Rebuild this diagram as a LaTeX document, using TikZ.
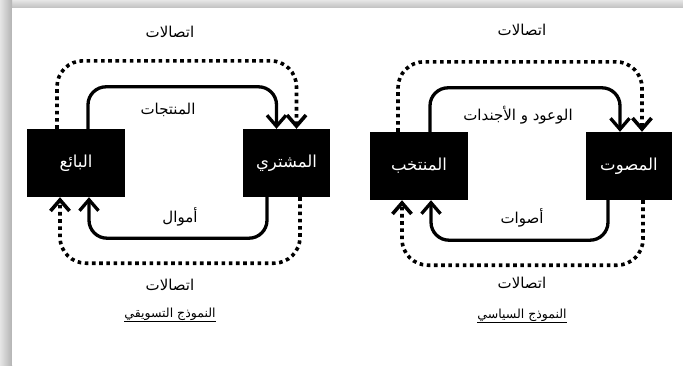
\documentclass[tikz,border=0pt]{standalone}
\usepackage{fontspec}
\newfontfamily\arabicfont[Script=Arabic]{DejaVu Sans}
\TeXXeTstate=1
\usetikzlibrary{arrows.meta}
\newcommand{\artext}[1]{\arabicfont\beginR #1\endR}

\tikzset{
  agent/.style={fill=black, text=white, minimum height=68pt, inner sep=0pt,
    font=\fontsize{16.5}{19}\selectfont},
  flow/.style={line width=3.3pt, -{Straight Barb[length=11pt,width=19pt]},
    rounded corners=18pt},
  talk/.style={line width=3.6pt, dash pattern=on 3.6pt off 3.6pt,
    -{Straight Barb[length=11pt,width=19pt]}, rounded corners=26pt},
  lbl/.style={font=\fontsize{15}{17}\selectfont},
  title/.style={font=\fontsize{12.5}{15}\selectfont}
}

\begin{document}
\begin{tikzpicture}[x=1pt,y=-1pt]
  \useasboundingbox (0,0) rectangle (683,365);

  % frame shadow
  \shade[top color=gray!20, bottom color=gray!50] (0,0) rectangle (683,8);
  \shade[left color=gray!20, right color=gray!60] (0,0) rectangle (12,365);
  \fill[white] (12,8) rectangle (683,365);

  % marketing model
  \node[agent, minimum width=98pt] (sel) at (76,163) {\artext{البائع}};
  \node[agent, minimum width=87pt] (buy) at (286.5,163) {\artext{المشتري}};

  \draw[flow] ([xshift=12pt]sel.north) -- ++(0,-42) -| ([xshift=-10pt]buy.north);
  \draw[talk] ([xshift=-19pt]sel.north) -- ++(0,-68) -| ([xshift=10pt]buy.north);
  \draw[flow] ([xshift=-19.5pt]buy.south) -- ++(0,41) -| ([xshift=13pt]sel.south);
  \draw[talk] ([xshift=13.5pt]buy.south) -- ++(0,66) -| ([xshift=-16pt]sel.south);

  \node[lbl] (mtop) at (170,32) {\artext{اتصالات}};
  \node[lbl] (goods) at (168,110) {\artext{المنتجات}};
  \node[lbl] (money) at (180,217) {\artext{أموال}};
  \node[lbl] (mbot) at (170,285) {\artext{اتصالات}};
  \node[title] (mtitle) at (170,315) {\underline{\artext{النموذج التسويقي}}};

  % political model
  \node[agent, minimum width=98pt] (elect) at (419,166) {\artext{المنتخب}};
  \node[agent, minimum width=86pt] (voter) at (629,166) {\artext{المصوت}};

  \draw[flow] ([xshift=11pt]elect.north) -- ++(0,-44) -| ([xshift=-9pt]voter.north);
  \draw[talk] ([xshift=-21pt]elect.north) -- ++(0,-70) -| ([xshift=13pt]voter.north);
  \draw[flow] ([xshift=-21pt]voter.south) -- ++(0,40) -| ([xshift=12pt]elect.south);
  \draw[talk] ([xshift=14pt]voter.south) -- ++(0,65) -| ([xshift=-17pt]elect.south);

  \node[lbl] (ptop) at (522,30) {\artext{اتصالات}};
  \node[lbl] (promise) at (518,115) {\artext{الوعود و الأجندات}};
  \node[lbl] (votes) at (522,218) {\artext{أصوات}};
  \node[lbl] (pbot) at (522,283) {\artext{اتصالات}};
  \node[title] (ptitle) at (522,316) {\underline{\artext{النموذج السياسي}}};
\end{tikzpicture}
\end{document}
